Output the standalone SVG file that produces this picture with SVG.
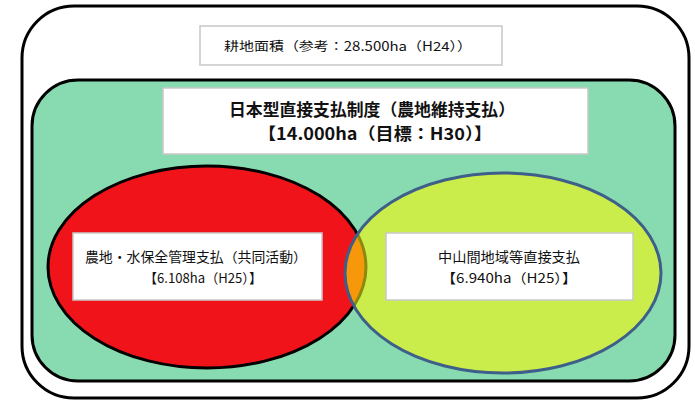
<svg xmlns="http://www.w3.org/2000/svg" width="695" height="402" viewBox="0 0 695 402">
<style>
.box{fill:#fff;stroke:#c8c8c8;stroke-width:1.5}
.t{font-family:"Noto Sans CJK JP","Noto Sans CJK SC",sans-serif;fill:#111;text-anchor:middle}
.tb{font-family:"Noto Sans CJK JP","Noto Sans CJK SC",sans-serif;fill:#111;text-anchor:middle;font-weight:bold}
</style>
<defs>
<clipPath id="clipGreen"><ellipse cx="503" cy="273" rx="158" ry="100"/></clipPath>
</defs>
<g id="outer">
<rect x="22" y="6" width="667" height="392" rx="52" ry="52" fill="#fff" stroke="#000" stroke-width="3"/>
<g id="top-box">
<rect class="box" x="200" y="26" width="302" height="39"/>
<text class="t" x="348" y="51" font-size="12.5" textLength="248" lengthAdjust="spacingAndGlyphs">耕地面積（参考：28.500ha（H24））</text>
</g>
</g>
<g id="green-area">
<rect x="32" y="80" width="643" height="301" rx="46" ry="46" fill="#88dbb0" stroke="#000" stroke-width="3"/>
<g id="title-box">
<rect class="box" x="163" y="88" width="425" height="66"/>
<text class="tb" x="372" y="116" font-size="16.5" textLength="286" lengthAdjust="spacingAndGlyphs">日本型直接支払制度（農地維持支払）</text>
<text class="tb" x="375" y="140" font-size="16.5" textLength="234" lengthAdjust="spacingAndGlyphs">【14.000ha（目標：H30）】</text>
</g>
</g>
<g id="venn">
<ellipse id="red-ellipse" cx="207" cy="267" rx="159" ry="101" fill="#f0141a" stroke="#000" stroke-width="3"/>
<ellipse id="green-ellipse-fill" cx="503" cy="273" rx="158" ry="100" fill="#cbed4c"/>
<g clip-path="url(#clipGreen)">
<ellipse cx="207" cy="267" rx="159" ry="101" fill="#f7980a" stroke="#8a8a10" stroke-width="3"/>
</g>
<ellipse id="green-ellipse-stroke" cx="503" cy="273" rx="158" ry="100" fill="none" stroke="#3e5f8a" stroke-width="3"/>
</g>
<g id="red-box">
<rect class="box" x="73" y="233" width="249" height="67"/>
<text class="t" x="196" y="262" font-size="13.5" textLength="222" lengthAdjust="spacingAndGlyphs">農地・水保全管理支払（共同活動）</text>
<text class="t" x="203" y="283" font-size="13.5" textLength="118" lengthAdjust="spacingAndGlyphs">【6.108ha（H25）】</text>
</g>
<g id="green-box">
<rect class="box" x="386" y="233" width="247" height="67"/>
<text class="t" x="509" y="262" font-size="13.5" textLength="142" lengthAdjust="spacingAndGlyphs">中山間地域等直接支払</text>
<text class="t" x="509" y="283" font-size="13.5" textLength="136" lengthAdjust="spacingAndGlyphs">【6.940ha（H25）】</text>
</g>
<g id="connectors"></g>
</svg>
